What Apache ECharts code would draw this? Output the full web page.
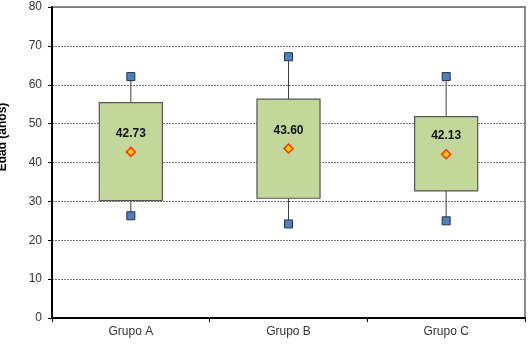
<!DOCTYPE html>
<html>
<head>
<meta charset="utf-8">
<script src="https://cdn.jsdelivr.net/npm/echarts@6/dist/echarts.min.js"></script>
<style>html,body{margin:0;padding:0;background:#fff}#c{width:531px;height:348px}</style>
</head>
<body>
<div id="c"></div>
<script>
var categories = ['Grupo A', 'Grupo B', 'Grupo C'];
var q1Values = [30.2, 30.8, 32.7];
var q3Values = [55.4, 56.3, 51.8];
var minValues = [26.3, 24.2, 25.0];
var maxValues = [62.1, 67.2, 62.1];
var meanValues = [42.73, 43.60, 42.13];
var yTicks = [0, 10, 20, 30, 40, 50, 60, 70, 80];
var yTitle = 'Edad (años)';

var boxData = categories.map(function (c, i) { return [i, minValues[i], q1Values[i], q3Values[i], maxValues[i]]; });
var extremes = [];
categories.forEach(function (c, i) { extremes.push([i, maxValues[i]]); extremes.push([i, minValues[i]]); });
var meanData = categories.map(function (c, i) { return [i, meanValues[i]]; });

var chart = echarts.init(document.getElementById('c'), null, {renderer: 'canvas'});
var font = 'Liberation Sans, Arial, sans-serif';
chart.setOption({
  animation: false,
  backgroundColor: '#fff',
  grid: {left: 52, right: 6, top: 7, bottom: 30, show: true, borderColor: '#8c8c8c', borderWidth: 2, backgroundColor: 'transparent'},
  graphic: [{
    type: 'text', x: 3, y: 137, rotation: Math.PI / 2,
    style: {text: yTitle, font: 'bold 12px ' + font, fill: '#000', textAlign: 'center', textVerticalAlign: 'middle'}
  }],
  xAxis: {
    type: 'category', data: categories, boundaryGap: true,
    axisLine: {lineStyle: {color: '#000', width: 2}},
    axisTick: {show: true, length: 4, alignWithLabel: false, lineStyle: {color: '#000'}},
    axisLabel: {fontFamily: font, fontSize: 12, color: '#333', margin: 8},
    splitLine: {show: false}
  },
  yAxis: {
    type: 'value', min: yTicks[0], max: yTicks[yTicks.length - 1], interval: 10,
    axisLine: {show: true, lineStyle: {color: '#000', width: 2}},
    axisTick: {show: true, length: 4, lineStyle: {color: '#000'}},
    axisLabel: {fontFamily: font, fontSize: 12, color: '#333', margin: 10},
    splitLine: {show: true, lineStyle: {color: '#777', type: [2, 1], width: 1}}
  },
  series: [{
    type: 'custom',
    data: boxData,
    z: 2,
    renderItem: function (params, api) {
      var x = api.value(0);
      var pMin = api.coord([x, api.value(1)]);
      var pQ1 = api.coord([x, api.value(2)]);
      var pQ3 = api.coord([x, api.value(3)]);
      var pMax = api.coord([x, api.value(4)]);
      var w = api.size([1, 0])[0] * 0.4;
      var lineStyle = {stroke: '#404040', lineWidth: 1};
      return {
        type: 'group',
        children: [
          {type: 'line', shape: {x1: pMax[0], y1: pMax[1], x2: pQ3[0], y2: pQ3[1]}, style: lineStyle},
          {type: 'line', shape: {x1: pQ1[0], y1: pQ1[1], x2: pMin[0], y2: pMin[1]}, style: lineStyle},
          {type: 'rect', shape: {x: pQ3[0] - w / 2, y: pQ3[1], width: w, height: pQ1[1] - pQ3[1]},
            style: {fill: '#c4d79b', stroke: '#555', lineWidth: 1.2}}
        ]
      };
    }
  }, {
    type: 'scatter', data: extremes, z: 3,
    symbol: 'rect', symbolSize: 8,
    itemStyle: {color: '#4f81bd', borderColor: '#1f3050', borderWidth: 1, opacity: 1}
  }, {
    type: 'scatter', data: meanData, z: 4,
    symbol: 'diamond', symbolSize: 9,
    itemStyle: {color: '#ffcc00', borderColor: '#ff3300', borderWidth: 1.5, opacity: 1},
    label: {
      show: true, position: 'top', distance: 7,
      formatter: function (p) { return p.value[1].toFixed(2); },
      fontFamily: font, fontSize: 12, fontWeight: 'bold', color: '#111'
    }
  }]
});
</script>
</body>
</html>
